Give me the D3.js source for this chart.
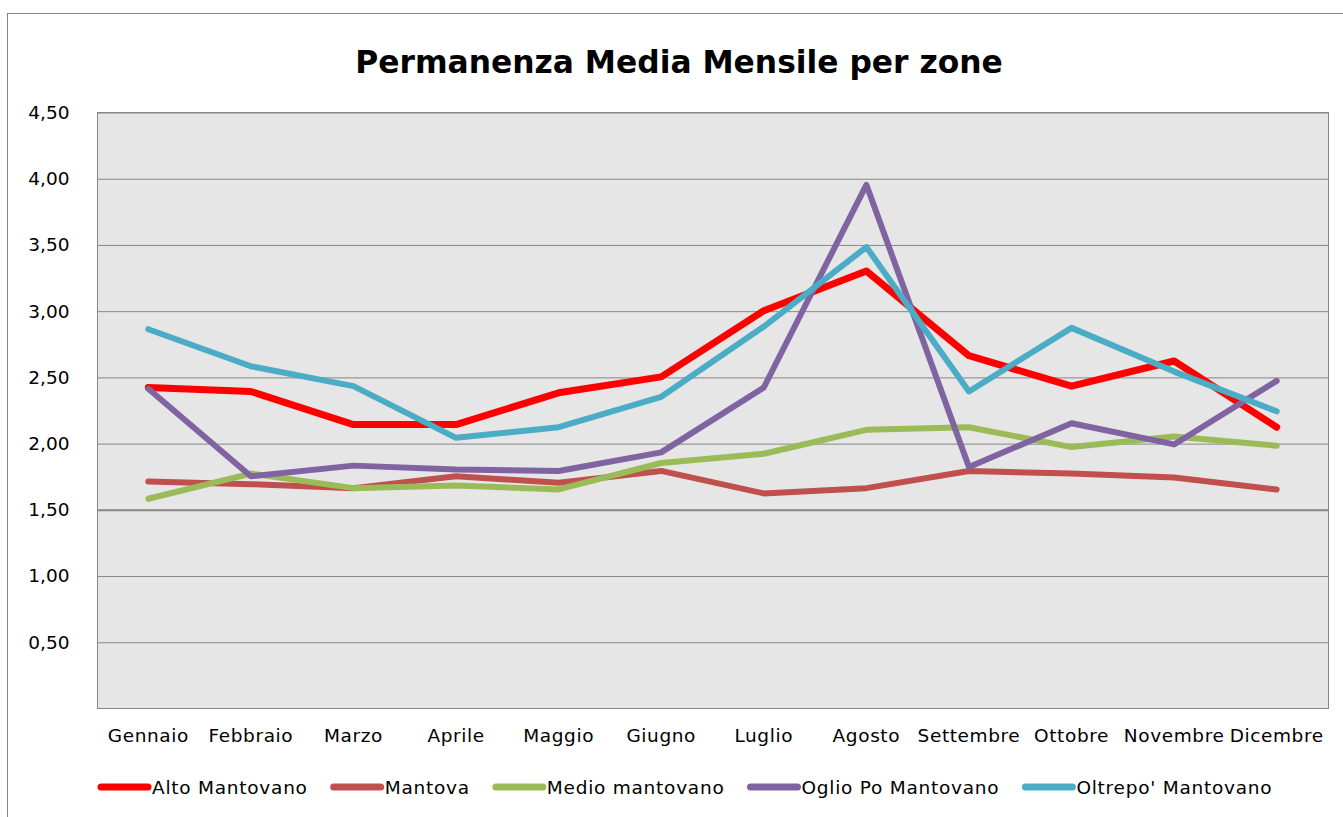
<!DOCTYPE html>
<html><head><meta charset="utf-8">
<script src="https://cdn.jsdelivr.net/npm/d3@7"></script>
<style>body{margin:0;background:#fff}svg{display:block}text{font-family:"DejaVu Sans",sans-serif}</style>
</head><body><svg id="c" width="1343" height="817"></svg>
<script>
const months = ["Gennaio","Febbraio","Marzo","Aprile","Maggio","Giugno","Luglio","Agosto","Settembre","Ottobre","Novembre","Dicembre"];
const altoMantovano   = [2.42,2.39,2.14,2.14,2.38,2.50,3.00,3.30,2.66,2.43,2.62,2.12];
const mantova         = [1.71,1.69,1.66,1.75,1.70,1.79,1.62,1.66,1.79,1.77,1.74,1.65];
const medioMantovano  = [1.58,1.77,1.66,1.68,1.65,1.85,1.92,2.10,2.12,1.97,2.05,1.98];
const oglioPo         = [2.41,1.75,1.83,1.80,1.79,1.93,2.42,3.95,1.82,2.15,1.99,2.47];
const oltrepo         = [2.86,2.58,2.43,2.04,2.12,2.35,2.88,3.48,2.39,2.87,2.54,2.24];
const yTicks = [0.5,1,1.5,2,2.5,3,3.5,4,4.5];
const seriesNames = ["Alto Mantovano","Mantova","Medio mantovano","Oglio Po Mantovano","Oltrepo' Mantovano"];
const seriesValues = [altoMantovano, mantova, medioMantovano, oglioPo, oltrepo];
const colors = ["#FF0000","#C0504D","#9BBB59","#8064A2","#4BACC6"];
const title = "Permanenza Media Mensile per zone";

const svg = d3.select("#c");
const L = 97, R = 1328, T = 112, B = 708;
svg.append("rect").attr("x",7.5).attr("y",13.5).attr("width",1400).attr("height",900)
  .attr("fill","#fff").attr("stroke","#868686").attr("stroke-width",1);

const x = d3.scaleBand().domain(months).range([L,R]).padding(0);
const y = d3.scaleLinear().domain([0,4.5]).range([B,T]);

svg.append("rect").attr("x",L+0.5).attr("y",T+0.5).attr("width",R-L).attr("height",B-T)
  .attr("fill","#E6E6E6").attr("stroke","#868686");

const fmt = v => d3.format(".2f")(v).replace(".",",");
const yAxis = d3.axisLeft(y).tickValues(yTicks).tickSize(-(R-L)).tickFormat(fmt).tickPadding(28);
const ga = svg.append("g").attr("transform",`translate(${L+0.5},0.5)`).call(yAxis);
ga.select(".domain").remove();
ga.selectAll(".tick line").attr("stroke","#868686");
ga.selectAll(".tick").filter(d=>d===1.5).select("line").attr("stroke-width",2);
ga.selectAll(".tick text").attr("font-size",18.5).attr("fill","#000").attr("font-family","DejaVu Sans");

const xAxis = d3.axisBottom(x).tickSize(0).tickPadding(21);
const gx = svg.append("g").attr("transform",`translate(0,${B})`).call(xAxis);
gx.select(".domain").remove();
gx.selectAll(".tick text").attr("font-size",18.5).attr("fill","#000").attr("font-family","DejaVu Sans").attr("letter-spacing",0.6);

const line = d3.line().x((d,i)=>x(months[i])+x.bandwidth()/2).y(d=>y(d));
seriesValues.forEach((vals,k)=>{
  svg.append("path").datum(vals).attr("d",line).attr("fill","none")
    .attr("stroke",colors[k]).attr("stroke-width",k===0?7:6)
    .attr("stroke-linejoin","round").attr("stroke-linecap","round");
});

const tt = svg.append("text").attr("x",679).attr("y",73).attr("text-anchor","middle")
  .attr("font-family","Liberation Sans").attr("font-weight","bold").attr("font-size",36).attr("fill","#000").text(title);
const tw = tt.node().getComputedTextLength();
tt.attr("font-size", 36*648/tw);

const lg = svg.append("g");
let lx = 98;
const ly = 787;
seriesNames.forEach((n,k)=>{
  lg.append("line").attr("x1",lx+3).attr("x2",lx+50).attr("y1",ly).attr("y2",ly)
    .attr("stroke",colors[k]).attr("stroke-width",7).attr("stroke-linecap","round");
  const t = lg.append("text").attr("x",lx+54).attr("y",ly+6.5).attr("font-size",18.5)
    .attr("letter-spacing",0.75).attr("fill","#000").text(n);
  const w = t.node().getComputedTextLength();
  lx = lx + 54 + w + 23;
});
</script></body></html>
